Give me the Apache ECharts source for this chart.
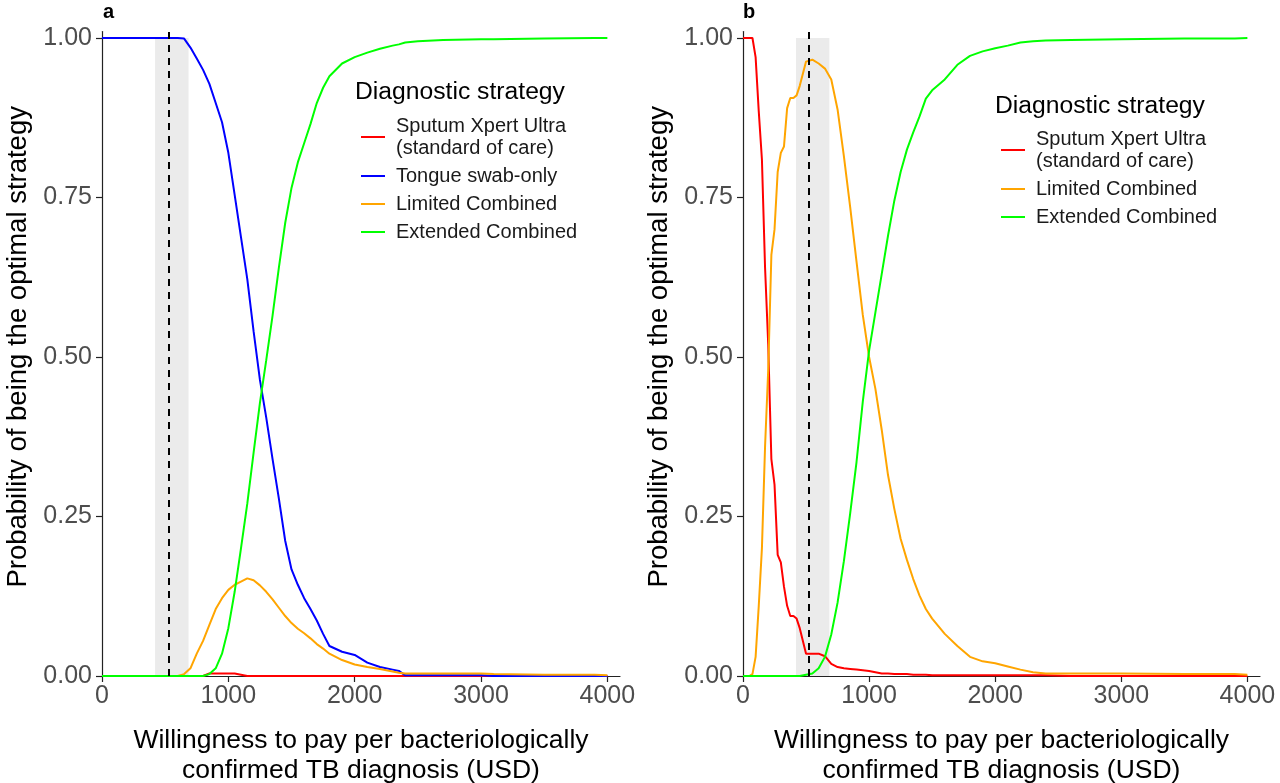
<!DOCTYPE html>
<html>
<head>
<meta charset="utf-8">
<title>Probability of being the optimal strategy</title>
<script src="https://cdn.jsdelivr.net/npm/echarts@6/dist/echarts.min.js"></script>
<style>
  html, body { margin: 0; padding: 0; background: #ffffff; }
  #chart { width: 1280px; height: 783px; }
</style>
</head>
<body>
<div id="chart"></div>
<script>
// panel a: willingness to pay (USD) and probability of each strategy being optimal
var wtpA = [0, 500, 600, 650, 700, 750, 800, 850, 900, 950, 1000, 1050, 1100, 1150, 1200, 1250, 1300, 1350, 1400, 1450,
  1500, 1550, 1600, 1650, 1700, 1750, 1800, 1900, 2000, 2100, 2200, 2300, 2350, 2400, 2500, 2700, 3000, 3100, 3500, 3900, 4000];
var sputumA = [0, 0, 0, 0, 0, 0, 0, 0.004, 0.004, 0.004, 0.004, 0.004, 0.002, 0, 0, 0, 0, 0, 0, 0,
  0, 0, 0, 0, 0, 0, 0, 0, 0, 0, 0, 0, 0, 0, 0, 0, 0, 0, 0, 0, 0];
var tongueA = [1, 1, 1, 0.999, 0.985, 0.968, 0.95, 0.928, 0.898, 0.868, 0.82, 0.754, 0.688, 0.622, 0.54, 0.464, 0.405, 0.34, 0.278, 0.212,
  0.167, 0.143, 0.122, 0.105, 0.087, 0.066, 0.047, 0.038, 0.033, 0.021, 0.014, 0.01, 0.008, 0.001, 0.001, 0.001, 0.001, 0, 0, 0, 0];
var limitedA = [0, 0, 0, 0.003, 0.012, 0.035, 0.055, 0.08, 0.105, 0.122, 0.135, 0.143, 0.148, 0.153, 0.15, 0.142, 0.132, 0.12, 0.107, 0.094,
  0.083, 0.074, 0.067, 0.059, 0.05, 0.043, 0.035, 0.025, 0.018, 0.014, 0.011, 0.007, 0.005, 0.004, 0.004, 0.004, 0.004, 0.003, 0.002, 0.002, 0.001];
var extendedA = [0, 0, 0, 0, 0, 0, 0, 0.003, 0.012, 0.035, 0.075, 0.132, 0.2, 0.27, 0.35, 0.428, 0.495, 0.565, 0.64, 0.71,
  0.765, 0.805, 0.835, 0.865, 0.898, 0.922, 0.94, 0.96, 0.97, 0.977, 0.983, 0.988, 0.99, 0.993, 0.995, 0.997, 0.998, 0.998, 0.999, 1, 1];

// panel b
var wtpB = [0, 50, 75, 100, 125, 150, 175, 200, 225, 250, 275, 300, 325, 350, 375, 400, 425, 450,
  500, 550, 600, 650, 700, 750, 800, 850, 900, 950, 1000, 1050, 1100, 1150, 1200, 1250, 1300, 1350, 1400, 1450, 1500,
  1600, 1700, 1800, 1900, 2000, 2100, 2200, 2300, 2400, 2600, 3000, 3500, 3900, 4000];
var sputumB = [1, 1, 1, 0.97, 0.885, 0.81, 0.64, 0.52, 0.34, 0.30, 0.19, 0.178, 0.14, 0.11, 0.094, 0.094, 0.09, 0.075,
  0.035, 0.035, 0.035, 0.031, 0.019, 0.014, 0.012, 0.011, 0.01, 0.009, 0.008, 0.006, 0.004, 0.004, 0.003, 0.003, 0.003, 0.002, 0.002, 0.002, 0.001,
  0.001, 0.001, 0.001, 0.001, 0.001, 0.001, 0.001, 0.001, 0.001, 0, 0, 0, 0, 0];
var limitedB = [0, 0, 0.003, 0.03, 0.11, 0.2, 0.36, 0.48, 0.66, 0.70, 0.79, 0.82, 0.83, 0.89, 0.906, 0.906, 0.91, 0.925,
  0.963, 0.966, 0.96, 0.952, 0.935, 0.888, 0.815, 0.735, 0.65, 0.566, 0.50, 0.45, 0.386, 0.315, 0.262, 0.215, 0.182, 0.152, 0.126, 0.105, 0.09,
  0.066, 0.047, 0.03, 0.023, 0.02, 0.015, 0.01, 0.006, 0.004, 0.004, 0.004, 0.003, 0.003, 0.002];
var extendedB = [0, 0, 0, 0, 0, 0, 0, 0, 0, 0, 0, 0, 0, 0, 0, 0, 0, 0,
  0.002, 0.004, 0.012, 0.03, 0.065, 0.115, 0.18, 0.255, 0.335, 0.43, 0.51, 0.57, 0.63, 0.69, 0.745, 0.79, 0.825, 0.852, 0.877, 0.905, 0.918,
  0.935, 0.958, 0.972, 0.979, 0.984, 0.988, 0.993, 0.995, 0.996, 0.997, 0.998, 0.999, 0.999, 1];

// threshold (dashed) and its uncertainty band
var thresholdWtp = 525;
var thresholdBand = [420, 685];

var xTicks = [0, 1000, 2000, 3000, 4000];
var yTicks = [0, 0.25, 0.5, 0.75, 1];

var nameSputum = 'Sputum Xpert Ultra\n(standard of care)';
var nameTongue = 'Tongue swab-only';
var nameLimited = 'Limited Combined';
var nameExtended = 'Extended Combined';

var FONT = 'Liberation Sans, Arial, sans-serif';

function pairs(xs, ys) {
  return xs.map(function (x, i) { return [x, ys[i]]; });
}

function xAxisFor(idx) {
  return {
    type: 'value', gridIndex: idx, min: 0, max: 4100,
    name: 'Willingness to pay per bacteriologically\nconfirmed TB diagnosis (USD)',
    nameLocation: 'middle', nameGap: 50,
    nameTextStyle: { fontFamily: FONT, fontSize: 26.5, lineHeight: 30, color: '#000' },
    axisLine: { show: true, lineStyle: { color: '#222', width: 1.2 } },
    axisTick: { show: true, length: 6, customValues: xTicks, lineStyle: { color: '#222', width: 1.2 } },
    axisLabel: {
      customValues: xTicks, margin: 8, fontFamily: FONT, fontSize: 25, color: '#4d4d4d',
      formatter: function (v) { return String(v); }
    },
    splitLine: { show: false }
  };
}

function yAxisFor(idx) {
  return {
    type: 'value', gridIndex: idx, min: 0, max: 1.01,
    name: 'Probability of being the optimal strategy',
    nameLocation: 'middle', nameGap: 70,
    nameTextStyle: { fontFamily: FONT, fontSize: 27.5, color: '#000', padding: [0, 0, 0, 14] },
    axisLine: { show: true, lineStyle: { color: '#222', width: 1.2 } },
    axisTick: { show: true, length: 6, customValues: yTicks, lineStyle: { color: '#222', width: 1.2 } },
    axisLabel: {
      customValues: yTicks, margin: 10, fontFamily: FONT, fontSize: 25, color: '#4d4d4d',
      formatter: function (v) { return v.toFixed(2); }
    },
    splitLine: { show: false }
  };
}

function lineSeries(name, color, xs, ys, idx) {
  return {
    type: 'line', name: name, xAxisIndex: idx, yAxisIndex: idx,
    data: pairs(xs, ys), showSymbol: false, symbol: 'none', z: 3,
    lineStyle: { color: color, width: 2 }, itemStyle: { color: color }
  };
}

function bandSeries(idx) {
  return {
    type: 'line', name: 'band' + idx, xAxisIndex: idx, yAxisIndex: idx, data: [], z: 1, silent: true,
    markArea: {
      silent: true,
      itemStyle: { color: '#ebebeb' },
      data: [[{ xAxis: thresholdBand[0], yAxis: 0 }, { xAxis: thresholdBand[1], yAxis: 1 }]]
    },
    markLine: {
      silent: true, symbol: 'none', label: { show: false },
      lineStyle: { color: '#000', width: 2, type: [7, 6] },
      data: [{ xAxis: thresholdWtp }]
    }
  };
}

function legendFor(left, top, names) {
  return {
    left: left, top: top, orient: 'vertical', icon: 'rect', itemWidth: 24, itemHeight: 2, itemGap: 6,
    selectedMode: false, data: names,
    textStyle: { fontFamily: FONT, fontSize: 20, lineHeight: 22, color: '#1a1a1a', padding: [0, 0, 0, 6] }
  };
}

var chart = echarts.init(document.getElementById('chart'));
chart.setOption({
  animation: false,
  backgroundColor: '#ffffff',
  grid: [
    { left: 102, top: 31.6, width: 518, height: 644.4, containLabel: false, outerBoundsMode: 'none' },
    { left: 743, top: 31.6, width: 517, height: 644.4, containLabel: false, outerBoundsMode: 'none' }
  ],
  xAxis: [xAxisFor(0), xAxisFor(1)],
  yAxis: [yAxisFor(0), yAxisFor(1)],
  legend: [
    legendFor(356, 110, [nameSputum, nameTongue, nameLimited, nameExtended]),
    legendFor(996, 123, [nameSputum, nameLimited, nameExtended])
  ],
  graphic: [
    { type: 'text', left: 103, top: 2, style: { text: 'a', font: 'bold 20px ' + FONT, fill: '#000' } },
    { type: 'text', left: 743, top: 2, style: { text: 'b', font: 'bold 20px ' + FONT, fill: '#000' } },
    { type: 'text', left: 355, top: 80, style: { text: 'Diagnostic strategy', font: '24.7px ' + FONT, fill: '#000' } },
    { type: 'text', left: 995, top: 94, style: { text: 'Diagnostic strategy', font: '24.7px ' + FONT, fill: '#000' } }
  ],
  series: [
    bandSeries(0),
    lineSeries(nameSputum, '#ff0000', wtpA, sputumA, 0),
    lineSeries(nameTongue, '#0000ff', wtpA, tongueA, 0),
    lineSeries(nameLimited, '#ffa500', wtpA, limitedA, 0),
    lineSeries(nameExtended, '#00ff00', wtpA, extendedA, 0),
    bandSeries(1),
    lineSeries(nameSputum, '#ff0000', wtpB, sputumB, 1),
    lineSeries(nameLimited, '#ffa500', wtpB, limitedB, 1),
    lineSeries(nameExtended, '#00ff00', wtpB, extendedB, 1)
  ]
});
</script>
</body>
</html>
